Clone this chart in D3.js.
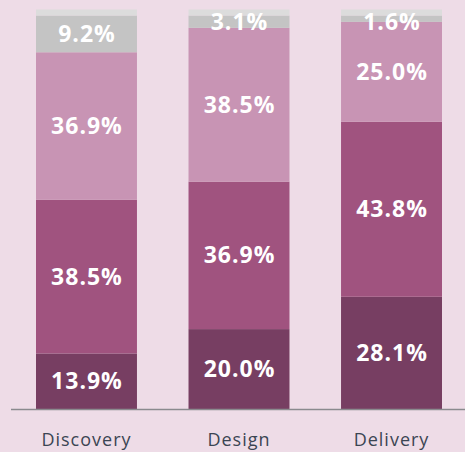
<!DOCTYPE html>
<html>
<head>
<meta charset="utf-8">
<script src="https://cdn.jsdelivr.net/npm/d3@7"></script>
<style>
  body { margin: 0; background: #eedce7; }
  svg { display: block; }
  .pct { font-family: "Open Sans", sans-serif; font-weight: bold; font-size: 23px; fill: #fff; letter-spacing: 1px; }
  .cat { font-family: "Open Sans", sans-serif; font-size: 18px; fill: #3b4553; letter-spacing: 1px; }
</style>
</head>
<body>
<script>
// 各阶段
var categories = ["Discovery", "Design", "Delivery"];
// 从下往上的分段
var seriesKeys = ["s1", "s2", "s3", "s4", "s5"];
var s1 = [13.9, 20.0, 28.1];
var s2 = [38.5, 36.9, 43.8];
var s3 = [36.9, 38.5, 25.0];
var s4 = [9.2, 3.1, 1.6];
var s5 = [1.5, 1.5, 1.5];
var colors = ["#773e62", "#a0537f", "#c894b4", "#c4c4c4", "#dcdcdc"];
var showLabel = [true, true, true, true, false];

var table = categories.map(function (c, i) {
    return { cat: c, s1: s1[i], s2: s2[i], s3: s3[i], s4: s4[i], s5: s5[i] };
});

var width = 465,
    height = 452,
    margin = { top: 9.5, right: 0, bottom: 43, left: 11 };

var svg = d3.select("body").append("svg")
    .attr("width", width)
    .attr("height", height);

var x = d3.scaleBand()
    .domain(categories)
    .range([36, 442])
    .paddingInner(0.338)
    .paddingOuter(0);

var y = d3.scaleLinear()
    .domain([0, 100])
    .range([height - margin.bottom, margin.top]);

var stack = d3.stack().keys(seriesKeys)(table);

var layers = svg.selectAll(".layer")
    .data(stack)
    .enter()
    .append("g")
    .attr("class", "layer")
    .attr("fill", function (d, i) { return colors[i]; });

layers.selectAll("rect")
    .data(function (d) { return d; })
    .enter()
    .append("rect")
    .attr("x", function (d) { return x(d.data.cat); })
    .attr("width", x.bandwidth())
    .attr("y", function (d) { return y(d[1]); })
    .attr("height", function (d) { return y(d[0]) - y(d[1]); });

// 百分比标签，放在所有矩形之上
var labelData = [];
stack.forEach(function (layer, i) {
    if (!showLabel[i]) return;
    layer.forEach(function (p) { labelData.push({ p: p, key: layer.key }); });
});

svg.append("g").selectAll("text")
    .data(labelData)
    .enter()
    .append("text")
    .attr("class", "pct")
    .attr("text-anchor", "middle")
    .attr("x", function (d) { return x(d.p.data.cat) + x.bandwidth() / 2 + 0.5; })
    .attr("y", function (d) {
        var mid = (y(d.p[0]) + y(d.p[1])) / 2;
        return Math.max(mid, 22) + 8;
    })
    .text(function (d) { return d.p.data[d.key].toFixed(1) + "%"; });

// x轴
var axis = svg.append("g")
    .attr("transform", "translate(0," + (height - margin.bottom) + ")");

axis.append("line")
    .attr("x1", margin.left)
    .attr("x2", width)
    .attr("y1", 0.5)
    .attr("y2", 0.5)
    .attr("stroke", "#8a8a8e")
    .attr("stroke-width", 1.5);

axis.selectAll(".cat")
    .data(categories)
    .enter()
    .append("text")
    .attr("class", "cat")
    .attr("text-anchor", "middle")
    .attr("x", function (d) { return x(d) + x.bandwidth() / 2; })
    .attr("y", 37)
    .text(function (d) { return d; });
</script>
</body>
</html>
